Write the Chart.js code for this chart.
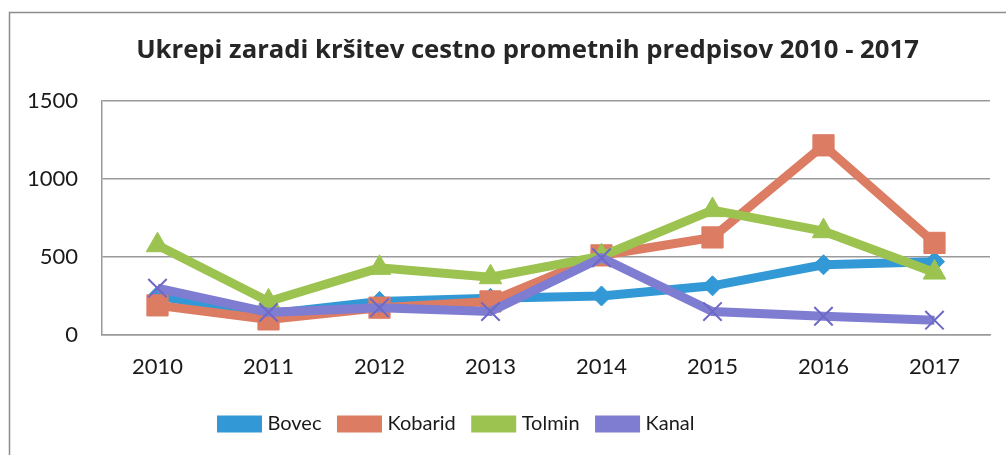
<!DOCTYPE html>
<html>
<head>
<meta charset="utf-8">
<script src="https://cdn.jsdelivr.net/npm/chart.js@4.4.1/dist/chart.umd.min.js"></script>
<style>
  html, body { margin: 0; padding: 0; background: #fff; }
  #wrap { width: 1006px; height: 455px; position: relative; }
</style>
</head>
<body>
<div id="wrap"><canvas id="myChart" width="1006" height="455"></canvas></div>
<script>
// categories along the x-axis
var years = ["2010", "2011", "2012", "2013", "2014", "2015", "2016", "2017"];
// one array per municipality
var bovec = [250, 135, 215, 235, 250, 315, 450, 470];
var kobarid = [190, 100, 175, 215, 510, 625, 1215, 590];
var tolmin = [575, 215, 430, 370, 505, 800, 665, 400];
var kanal = [300, 145, 175, 150, 495, 150, 120, 95];
// y-axis tick values
var yTicks = [0, 500, 1000, 1500];

var FONT = "Lato, 'Open Sans', sans-serif";

// thin grey frame like the scanned chart border (left and top edge only)
var framePlugin = {
  id: 'frame',
  afterLayout: function (chart) {
    // title is centred over the whole chart box, legend sits a bit left of centre
    chart.titleBlock.left = 62;
    chart.legend.left = 0;
    chart.legend.right = 916;
  },
  beforeDraw: function (chart) {
    var c = chart.ctx;
    c.save();
    c.fillStyle = '#ffffff';
    c.fillRect(0, 0, chart.width, chart.height);
    c.strokeStyle = '#8c8c8c';
    c.lineWidth = 1.5;
    c.beginPath();
    c.moveTo(9.5, chart.height);
    c.lineTo(9.5, 12.5);
    c.lineTo(chart.width, 12.5);
    c.stroke();
    c.restore();
  }
};

var ctx = document.getElementById("myChart");
var myChart = new Chart(ctx, {
  type: 'line',
  data: {
    labels: years,
    datasets: [
      {
        label: "Bovec",
        data: bovec,
        borderColor: "#3399d6",
        backgroundColor: "#3399d6",
        borderWidth: 9,
        pointStyle: 'rectRot',
        pointRadius: 10,
        pointBorderWidth: 1,
        order: 4,
        fill: false
      },
      {
        label: "Kobarid",
        data: kobarid,
        borderColor: "#dc7c63",
        backgroundColor: "#dc7c63",
        borderWidth: 9,
        pointStyle: 'rect',
        pointRadius: 15,
        pointBorderWidth: 1,
        order: 3,
        fill: false
      },
      {
        label: "Tolmin",
        data: tolmin,
        borderColor: "#9cc350",
        backgroundColor: "#9cc350",
        borderWidth: 9,
        pointStyle: 'triangle',
        pointRadius: 13,
        pointBorderWidth: 1,
        order: 2,
        fill: false
      },
      {
        label: "Kanal",
        data: kanal,
        borderColor: "#7f7dd2",
        backgroundColor: "#7f7dd2",
        borderWidth: 9,
        pointStyle: 'crossRot',
        pointRadius: 13,
        pointBorderWidth: 2,
        pointBorderColor: "#6d69c4",
        order: 1,
        fill: false
      }
    ]
  },
  options: {
    responsive: false,
    animation: false,
    layout: { padding: { left: 0, right: 13, top: 0, bottom: 11 } },
    plugins: {
      tooltip: { enabled: false },
      title: {
        display: true,
        text: "Ukrepi zaradi kršitev cestno prometnih predpisov 2010 - 2017",
        color: "#262626",
        font: { family: "'Open Sans', Lato, sans-serif", size: 25.7, weight: 'bold' },
        padding: { top: 35, bottom: 35 }
      },
      legend: {
        position: 'bottom',
        labels: {
          sort: function (a, b) { return a.datasetIndex - b.datasetIndex; },
          color: "#1a1a1a",
          font: { family: FONT, size: 20 },
          boxWidth: 36,
          boxHeight: 8,
          padding: 20
        }
      }
    },
    scales: {
      x: {
        offset: true,
        afterFit: function (s) { s.height = 59; },
        grid: { display: false },
        border: { display: true, color: '#9a9a9a', width: 1.5 },
        ticks: { color: "#1a1a1a", font: { family: FONT, size: 22 }, padding: 11 }
      },
      y: {
        min: 0,
        max: 1500,
        afterFit: function (s) { s.width = 102; },
        afterBuildTicks: function (s) { s.ticks = yTicks.map(function (v) { return { value: v }; }); },
        grid: { color: '#9a9a9a', lineWidth: 1.5, drawTicks: false },
        border: { display: true, color: '#9a9a9a', width: 1.5 },
        ticks: {
          color: "#1a1a1a",
          font: { family: FONT, size: 22 },
          padding: 24,
          callback: function (v) { return String(v); }
        }
      }
    }
  },
  plugins: [framePlugin]
});
</script>
</body>
</html>
